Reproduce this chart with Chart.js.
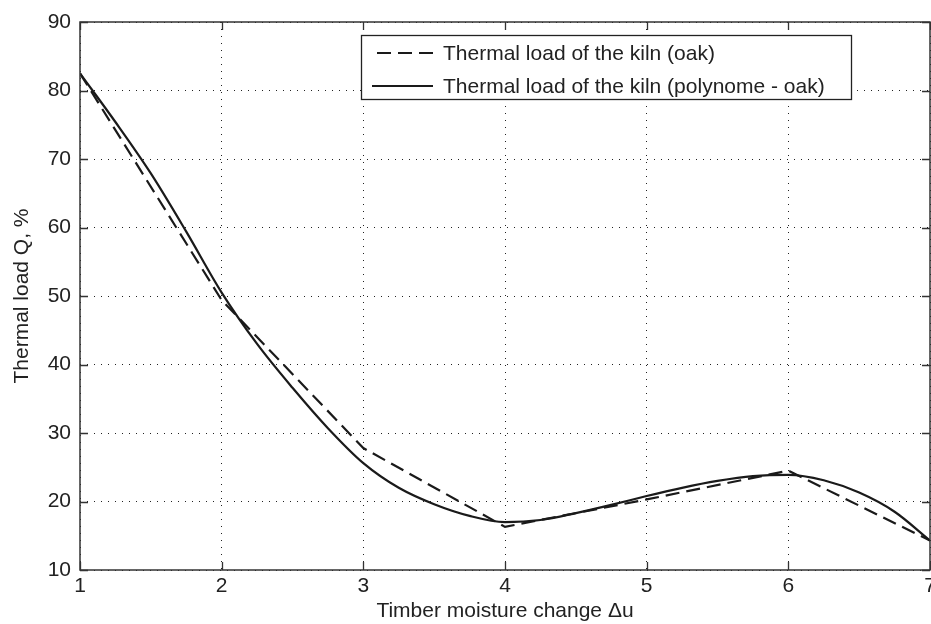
<!DOCTYPE html>
<html>
<head>
<meta charset="utf-8">
<script src="https://cdn.jsdelivr.net/npm/chart.js@4/dist/chart.umd.min.js"></script>
<style>
  html, body { margin: 0; padding: 0; background: #fff; }
</style>
</head>
<body>
<canvas id="chart" width="931" height="624"></canvas>
<script>
// measured kiln thermal load (oak) and its polynomial fit
const xMeasured = [1, 2, 3, 4, 5, 6, 7];
const qMeasured = [82.5, 49.4, 27.8, 16.3, 20.3, 24.5, 14.3];

const xPoly = [1, 1.25, 1.5, 1.75, 2, 2.25, 2.5, 2.75, 3, 3.25, 3.5, 3.75, 4,
               4.25, 4.5, 4.75, 5, 5.25, 5.5, 5.75, 6, 6.25, 6.5, 6.75, 7];
const qPoly = [82.5, 75.4, 67.9, 59.4, 50.5, 43.0, 36.6, 30.7, 25.6, 22.0, 19.6, 17.9, 17.0,
               17.3, 18.3, 19.5, 20.8, 22.0, 23.0, 23.7, 23.9, 23.1, 21.3, 18.5, 14.3];

const xTicks = [1, 2, 3, 4, 5, 6, 7];
const yTicks = [10, 20, 30, 40, 50, 60, 70, 80, 90];

const seriesLabels = ['Thermal load of the kiln (oak)', 'Thermal load of the kiln (polynome - oak)'];
const xTitle = 'Timber moisture change \u0394u';
const yTitle = 'Thermal load Q, %';

const FONT = "'Liberation Sans', Arial, Helvetica, sans-serif";
const INK = '#1a1a1a';
Chart.defaults.font.family = FONT;
Chart.defaults.font.size = 21;
Chart.defaults.color = '#222';

const toPts = (xs, ys) => xs.map((x, i) => ({ x: x, y: ys[i] }));

// MATLAB style box with inward ticks, drawn over the data
const boxPlugin = {
    id: 'matlabBox',
    afterDatasetsDraw(chart) {
        const { ctx, chartArea: a, scales } = chart;
        const len = 8;
        ctx.save();
        ctx.strokeStyle = '#333';
        ctx.lineWidth = 1.5;
        ctx.strokeRect(a.left, a.top, a.right - a.left, a.bottom - a.top);
        ctx.lineWidth = 1.3;
        ctx.beginPath();
        scales.x.ticks.forEach(t => {
            const px = Math.round(scales.x.getPixelForValue(t.value)) + 0.5;
            ctx.moveTo(px, a.bottom); ctx.lineTo(px, a.bottom - len);
            ctx.moveTo(px, a.top); ctx.lineTo(px, a.top + len);
        });
        scales.y.ticks.forEach(t => {
            const py = Math.round(scales.y.getPixelForValue(t.value)) + 0.5;
            ctx.moveTo(a.left, py); ctx.lineTo(a.left + len, py);
            ctx.moveTo(a.right, py); ctx.lineTo(a.right - len, py);
        });
        ctx.stroke();
        ctx.restore();
    }
};

// legend box in the upper right like the original figure
const legendPlugin = {
    id: 'boxLegend',
    afterDraw(chart) {
        const { ctx } = chart;
        const left = 361, top = 35, right = 851, bottom = 99;
        ctx.save();
        ctx.fillStyle = '#fff';
        ctx.fillRect(left, top, right - left, bottom - top);
        ctx.strokeStyle = '#222';
        ctx.lineWidth = 1.3;
        ctx.strokeRect(left + 0.5, top + 0.5, right - left, bottom - top);
        ctx.font = '21px ' + FONT;
        ctx.textBaseline = 'middle';
        ctx.fillStyle = '#222';
        const rows = [53, 86];
        chart.data.datasets.forEach((ds, i) => {
            const y = rows[i];
            ctx.strokeStyle = INK;
            ctx.lineWidth = 2.2;
            ctx.setLineDash(ds.borderDash || []);
            ctx.beginPath();
            ctx.moveTo(ds.borderDash && ds.borderDash.length ? 377 : 372, y);
            ctx.lineTo(433, y);
            ctx.stroke();
            ctx.setLineDash([]);
            ctx.fillText(ds.label, 443, y + 1);
        });
        ctx.restore();
    }
};

new Chart(document.getElementById('chart'), {
    type: 'line',
    data: {
        datasets: [
            {
                label: seriesLabels[0],
                data: toPts(xMeasured, qMeasured),
                borderColor: INK,
                borderWidth: 2.2,
                borderDash: [14, 7],
                pointRadius: 0,
                tension: 0,
                fill: false
            },
            {
                label: seriesLabels[1],
                data: toPts(xPoly, qPoly),
                borderColor: INK,
                borderWidth: 2.2,
                pointRadius: 0,
                cubicInterpolationMode: 'monotone',
                fill: false
            }
        ]
    },
    options: {
        responsive: false,
        animation: false,
        layout: { padding: { top: 22, right: 1, left: 0, bottom: 0 } },
        plugins: {
            legend: { display: false },
            tooltip: { enabled: false }
        },
        scales: {
            x: {
                type: 'linear',
                min: 1,
                max: 7,
                afterBuildTicks: s => { s.ticks = xTicks.map(v => ({ value: v })); },
                afterFit: s => { s.height = 54; s.paddingLeft = 0; s.paddingRight = 0; },
                ticks: { padding: 4, maxRotation: 0, color: '#222' },
                grid: { color: '#222', lineWidth: 1, drawTicks: false },
                border: { display: false, dash: [1, 6] },
                title: {
                    display: true,
                    text: xTitle,
                    color: '#222',
                    font: { size: 21 },
                    padding: { top: 0, bottom: 0 }
                }
            },
            y: {
                type: 'linear',
                min: 10,
                max: 90,
                afterBuildTicks: s => { s.ticks = yTicks.map(v => ({ value: v })); },
                afterFit: s => { s.width = 80; s.paddingTop = 0; s.paddingBottom = 0; },
                ticks: { padding: 9, color: '#222' },
                grid: { color: '#222', lineWidth: 1, drawTicks: false },
                border: { display: false, dash: [1, 6] },
                title: {
                    display: true,
                    text: yTitle,
                    color: '#222',
                    font: { size: 21 },
                    padding: { top: 10, bottom: 0 }
                }
            }
        }
    },
    plugins: [boxPlugin, legendPlugin]
});
</script>
</body>
</html>
